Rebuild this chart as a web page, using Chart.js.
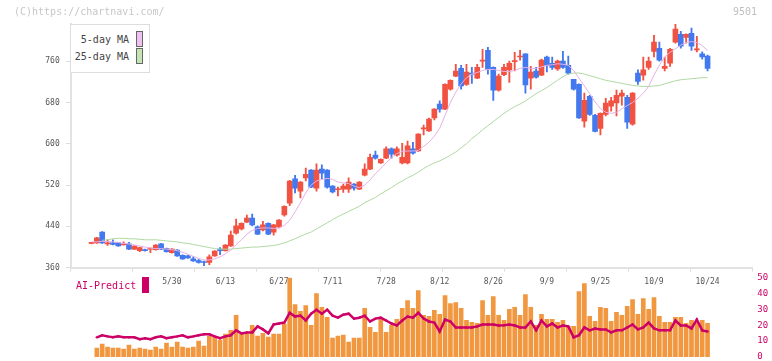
<!DOCTYPE html>
<html>
<head>
<meta charset="utf-8">
<script src="https://cdn.jsdelivr.net/npm/chart.js@4.4.1/dist/chart.umd.min.js"></script>
<style>
  body { margin: 0; background: #fff; }
  #wrap { position: relative; width: 772px; height: 361px; overflow: hidden; font-family: 'DejaVu Sans Mono', monospace; }
  canvas { position: absolute; left: 0; }
  #price { top: 0; }
  #vol { top: 268px; }
  .txt { position: absolute; white-space: pre; line-height: 10px; font-size: 10px; }
  .box { position: absolute; border: 1px solid #666; }
</style>
</head>
<body>
<div id="wrap">
  <canvas id="price" width="772" height="300"></canvas>
  <canvas id="vol" width="772" height="93"></canvas>

  <div class="txt" style="left:14px;top:7px;color:#c8c8c8">(C)https://chartnavi.com/</div>
  <div class="txt" style="left:700px;width:57px;text-align:right;top:7px;color:#c0c0c0">9501</div>

  <div style="position:absolute;left:70px;top:24px;width:78px;height:47px;border:1px solid #ddd;background:#fff"></div>
  <div class="txt" style="left:70px;width:59px;text-align:right;top:35px;color:#444">5-day MA</div>
  <div class="box" style="left:136px;top:31px;width:5px;height:14px;background:#f0c0f0"></div>
  <div class="txt" style="left:70px;width:59px;text-align:right;top:52px;color:#444">25-day MA</div>
  <div class="box" style="left:136px;top:48px;width:5px;height:14px;background:#c4e4b4"></div>

  <div class="txt" style="left:76px;top:281px;color:#cc0066">AI-Predict</div>
  <div style="position:absolute;left:142px;top:277px;width:7px;height:16px;background:#cc0066"></div>
</div>

<script>
// daily candles, 5/9 .. 10/24
const opens = [407,408,429,406,408,408,404,406,396,393,
  395,396,395,406,397,389,394,384,383,377,
  374,372,370,383,396,393,402,427,435,448,
  456,439,433,446,429,439,462,485,532,508,
  534,549,514,551,549,518,511,512,512,522,
  512,539,551,578,563,572,590,578,563,563,
  590,586,629,625,650,677,667,706,731,746,
  715,737,727,760,781,748,704,734,743,759,
  768,774,727,741,733,768,756,745,760,752,
  725,715,644,692,655,630,657,673,679,692,
  690,638,737,733,748,779,785,746,756,797,
  812,806,814,782,774,770];
const highs = [409,419,430,414,414,409,410,409,403,400,
  396,398,405,407,398,397,395,385,384,381,
  376,373,385,393,399,405,431,454,447,462,
  464,441,450,447,444,453,480,529,539,527,
  553,550,561,559,550,519,516,522,534,523,
  527,561,580,586,571,594,592,594,601,605,
  603,620,636,650,668,683,716,724,754,752,
  754,748,754,783,787,749,735,754,760,777,
  781,774,750,748,764,770,768,762,779,770,
  725,716,698,694,657,660,688,690,704,704,
  694,699,743,768,768,810,797,768,785,832,
  818,813,824,808,778,772];
const lows = [406,407,407,403,404,401,404,395,395,391,
  392,389,394,395,390,388,382,376,378,372,
  369,364,366,382,385,392,401,425,433,447,
  441,424,431,424,423,437,460,480,505,495,
  528,515,508,532,514,505,499,506,506,510,
  511,538,550,570,562,571,572,576,561,561,
  580,585,617,624,646,661,666,704,730,706,
  713,717,726,748,735,684,702,732,719,741,
  762,698,706,727,732,739,744,742,746,735,
  704,649,632,655,623,617,654,663,654,675,
  630,636,715,723,744,768,760,741,750,795,
  785,795,781,778,764,741];
const closes = [408,418,408,408,405,402,405,396,402,399,
  393,397,404,396,391,396,383,377,379,373,
  370,370,381,392,393,404,423,441,446,456,
  443,425,443,425,443,452,479,528,514,526,
  541,516,549,543,516,507,512,518,526,514,
  526,551,574,572,570,590,580,590,574,596,
  582,619,631,648,667,667,715,723,741,712,
  739,735,748,762,744,704,731,748,756,760,
  770,714,739,729,762,752,748,760,748,737,
  706,650,684,657,624,659,679,683,694,698,
  642,698,721,743,760,797,762,750,783,822,
  789,812,789,783,768,746];

const ma5 = [410,410,411,411,410,409,407,406,404,402,
  400,398,397,397,396,395,393,390,386,382,
  378,375,375,377,381,387,394,405,414,425,
  432,436,437,437,436,437,442,452,468,486,
  505,520,528,531,533,531,526,524,523,518,
  515,520,530,542,552,563,573,581,585,586,
  586,587,595,603,615,630,655,680,700,716,
  728,735,738,742,744,744,742,740,740,742,
  746,748,746,746,749,752,753,755,754,752,
  742,727,712,697,681,668,661,659,661,668,
  674,680,688,698,711,733,752,768,777,784,
  791,796,798,796,790,781];
const ma25 = [null,null,413,414,416,417,417,416,416,415,
  414,414,414,413,412,411,410,408,407,405,
  403,401,399,397,396,396,396,397,398,399,
  400,400,401,402,403,405,408,412,416,421,
  425,429,435,441,447,453,459,464,469,474,
  479,486,491,496,503,509,515,522,528,534,
  539,545,552,558,563,567,572,578,584,592,
  600,610,618,627,635,643,651,659,666,672,
  677,683,690,697,703,709,716,723,730,735,
  737,737,735,732,729,726,723,721,719,717,
  715,713,712,711,711,712,713,716,719,722,
  724,725,726,727,728,728];

// volume in millions of shares
const volume = [null,9,13,10,9,9,8,12,8,9,
  8,7,10,8,14,10,15,10,9,10,
  16,11,21,20,17,23,27,42,23,23,
  32,21,24,20,23,23,33,80,53,46,
  52,32,64,50,40,19,21,22,15,19,
  19,49,30,25,38,25,32,38,49,57,
  49,67,42,41,47,43,62,54,55,49,
  37,35,34,57,42,61,42,37,48,50,
  42,63,50,32,43,38,38,35,37,31,
  31,66,74,41,36,50,49,36,45,42,
  51,58,43,59,48,60,41,35,35,40,
  40,34,37,34,37,34];
const aiPredict = [null,12.4,13.7,13.0,12.4,13.0,12.4,12.4,12.4,11.2,
  11.8,11.2,12.4,13.0,11.8,12.4,13.0,13.7,12.4,13.0,
  13.7,14.3,14.3,13.0,11.8,13.0,13.7,16.8,14.9,15.5,
  15.5,19.3,17.4,14.9,20.5,21.1,21.7,27.9,25.5,26.1,
  23.0,27.3,29.8,27.3,29.8,26.1,24.8,26.7,27.3,24.2,
  24.8,26.1,22.4,24.2,24.8,23.0,21.1,19.9,23.0,25.5,
  24.8,27.9,24.2,22.4,21.7,16.1,23.6,22.4,18.6,18.6,
  18.6,18.6,19.3,20.5,20.5,20.5,19.9,20.0,20.5,19.9,
  18.6,18.6,22.4,16.8,23.0,19.3,21.1,18.6,19.9,19.3,
  12.4,13.7,18.6,16.8,18.0,17.4,17.4,15.5,16.8,16.8,
  18.6,20.5,17.4,18.6,21.7,18.0,16.8,16.8,16.8,23.0,
  19.9,19.9,18.0,23.6,16.8,16.1];

const dateLabels = ['5/30','6/13','6/27','7/11','7/28','8/12','8/26','9/9','9/25','10/9','10/24'];
const dateIdx = [15,25,35,45,55,65,75,85,95,105,115];
const priceTicks = [360,440,520,600,680,760];

const UP = '#f25241', DOWN = '#4279ee';
const candleColors = opens.map((o, i) => closes[i] >= o ? UP : DOWN);
const xMin = -3.88, xMax = 123.35;
const tickFont = { family: 'DejaVu Sans Mono', size: 8 };

new Chart(document.getElementById('price'), {
  type: 'bar',
  data: {
    datasets: [
      { type: 'line', label: '5-day MA', data: ma5.map((v, i) => ({ x: i, y: v })),
        borderColor: '#e6b0e6', borderWidth: 1, pointRadius: 0 },
      { type: 'line', label: '25-day MA', data: ma25.map((v, i) => ({ x: i, y: v })),
        borderColor: '#b0d8a2', borderWidth: 1, pointRadius: 0 },
      { label: 'body', data: opens.map((o, i) => ({ x: i, y: [o, closes[i]] })),
        backgroundColor: candleColors, barThickness: 5, minBarLength: 1, grouped: false },
      { label: 'wick', data: lows.map((l, i) => ({ x: i, y: [l, highs[i]] })),
        backgroundColor: candleColors, barThickness: 1.2, grouped: false }
    ]
  },
  options: {
    responsive: false,
    animation: false,
    layout: { padding: { top: 24, right: 19.7, left: 0, bottom: 0 } },
    plugins: { legend: { display: false }, tooltip: { enabled: false } },
    scales: {
      x: {
        type: 'linear', min: xMin, max: xMax, offset: false,
        afterBuildTicks: s => {
          const t = [];
          for (let k = 0; k <= 11; k++) t.push({ value: s.min + k * (s.max - s.min) / 11, lab: '' });
          dateIdx.forEach((v, j) => t.push({ value: v, lab: dateLabels[j] }));
          s.ticks = t;
        },
        ticks: { autoSkip: false, maxRotation: 0, padding: 5.5, font: tickFont, color: '#555',
          callback: (v, i, t) => t[i].lab },
        grid: { drawOnChartArea: false, tickLength: 4, offset: false,
          tickColor: c => (c.tick && c.tick.lab) ? 'rgba(0,0,0,0)' : '#ddd' },
        border: { color: '#e2e2e2', width: 2 },
        afterFit: s => { s.height = 32.3; s.paddingLeft = 0; s.paddingRight = 0; }
      },
      y: {
        min: 360, max: 832,
        afterBuildTicks: s => { s.ticks = priceTicks.map(v => ({ value: v })); },
        ticks: { font: tickFont, color: '#555', padding: 6 },
        grid: { drawOnChartArea: false, tickLength: 5, tickColor: '#ddd' },
        border: { color: '#e2e2e2', width: 2 },
        afterFit: s => { s.width = 70.7; s.paddingTop = 0; s.paddingBottom = 0; }
      }
    }
  }
});

new Chart(document.getElementById('vol'), {
  type: 'bar',
  data: {
    datasets: [
      { type: 'line', label: 'AI-Predict', data: aiPredict.map((v, i) => ({ x: i, y: v })),
        yAxisID: 'y', borderColor: '#cc0066', borderWidth: 2.5,
        pointRadius: 1.2, pointBackgroundColor: '#cc0066', pointBorderWidth: 0 },
      { label: 'Volume', data: volume.map((v, i) => ({ x: i, y: v })),
        yAxisID: 'yVol', backgroundColor: '#f0973f', barThickness: 4, grouped: false }
    ]
  },
  options: {
    responsive: false,
    animation: false,
    layout: { padding: { left: 70.7, top: 9.7, bottom: 3, right: 0 } },
    plugins: { legend: { display: false }, tooltip: { enabled: false } },
    scales: {
      x: { type: 'linear', min: xMin, max: xMax, display: false, offset: false },
      yVol: { display: false, min: 0, max: 80 },
      y: {
        position: 'right', min: 0, max: 50,
        ticks: { stepSize: 10, color: '#cc0066', font: { family: 'DejaVu Sans Mono', size: 9 }, padding: 5 },
        grid: { display: false, drawTicks: false, tickLength: 0 },
        border: { display: false },
        afterFit: s => { s.width = 19.7; s.paddingTop = 0; s.paddingBottom = 0; }
      }
    }
  }
});
</script>
</body>
</html>
